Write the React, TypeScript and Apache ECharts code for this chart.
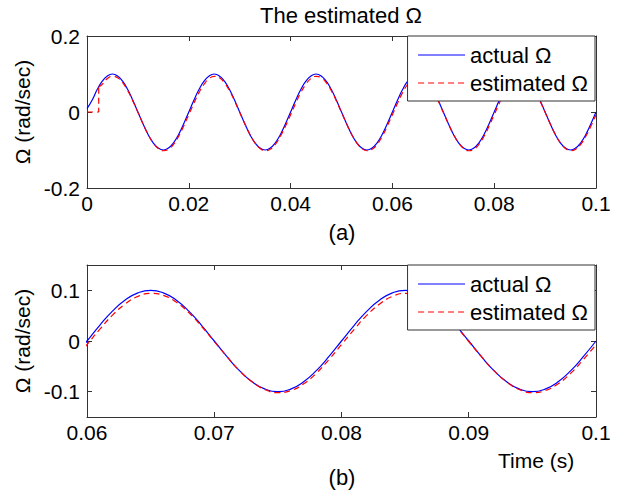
import React, { useEffect, useRef } from "react";
import * as echarts from "echarts";

// sampling step of the time axis (s)
const T_STEP = 0.001;

// actual Ω (rad/sec) at t = 0, 0.001, ..., 0.1
const actualOmega = [
  0.009, 0.031, 0.059, 0.081, 0.095, 0.1, 0.095, 0.081, 0.059, 0.031,
  0, -0.031, -0.059, -0.081, -0.095, -0.1, -0.095, -0.081, -0.059, -0.031,
  0, 0.031, 0.059, 0.081, 0.095, 0.1, 0.095, 0.081, 0.059, 0.031,
  0, -0.031, -0.059, -0.081, -0.095, -0.1, -0.095, -0.081, -0.059, -0.031,
  0, 0.031, 0.059, 0.081, 0.095, 0.1, 0.095, 0.081, 0.059, 0.031,
  0, -0.031, -0.059, -0.081, -0.095, -0.1, -0.095, -0.081, -0.059, -0.031,
  0, 0.031, 0.059, 0.081, 0.095, 0.1, 0.095, 0.081, 0.059, 0.031,
  0, -0.031, -0.059, -0.081, -0.095, -0.1, -0.095, -0.081, -0.059, -0.031,
  0, 0.031, 0.059, 0.081, 0.095, 0.1, 0.095, 0.081, 0.059, 0.031,
  0, -0.031, -0.059, -0.081, -0.095, -0.1, -0.095, -0.081, -0.059, -0.031,
  0,
];

// estimated Ω: initial step (estimator output held at 0 until it starts)
const estimatedStepTime = [0, 0.0023, 0.0023];
const estimatedStepValues = [0, 0, 0.066];

// estimated Ω at t = 0.003, 0.004, ..., 0.1
const estimatedStartTime = 0.003;
const estimatedOmega = [
  0.073, 0.088, 0.094, 0.09, 0.077, 0.056, 0.029,
  -0.001, -0.031, -0.059, -0.081, -0.096, -0.102, -0.098, -0.085, -0.064, -0.037,
  -0.007, 0.023, 0.051, 0.073, 0.088, 0.094, 0.09, 0.077, 0.056, 0.029,
  -0.001, -0.031, -0.059, -0.081, -0.096, -0.102, -0.098, -0.085, -0.064, -0.037,
  -0.007, 0.023, 0.051, 0.073, 0.088, 0.094, 0.09, 0.077, 0.056, 0.029,
  -0.001, -0.031, -0.059, -0.081, -0.096, -0.102, -0.098, -0.085, -0.064, -0.037,
  -0.007, 0.023, 0.051, 0.073, 0.088, 0.094, 0.09, 0.077, 0.056, 0.029,
  -0.001, -0.031, -0.059, -0.081, -0.096, -0.102, -0.098, -0.085, -0.064, -0.037,
  -0.007, 0.023, 0.051, 0.073, 0.088, 0.094, 0.09, 0.077, 0.056, 0.029,
  -0.001, -0.031, -0.059, -0.081, -0.096, -0.102, -0.098, -0.085, -0.064, -0.037,
  -0.007,
];

const seriesNames = ["actual Ω", "estimated Ω"];
const topXTicks = { min: 0, max: 0.1, interval: 0.02 };
const topYTicks = { min: -0.2, max: 0.2, interval: 0.2 };
const bottomXTicks = { min: 0.06, max: 0.1, interval: 0.01 };
const bottomYRange = { min: -0.15, max: 0.15 };
const bottomYTickValues = [-0.1, 0, 0.1];

const titleText = "The estimated Ω";
const yAxisName = "Ω (rad/sec)";
const xAxisName = "Time (s)";
const panelLabels = ["(a)", "(b)"];

const FONT = "'Liberation Sans', Arial, Helvetica, sans-serif";
const AXIS_COLOR = "#333";
const TEXT_COLOR = "#000";
const BLUE = "#0000ff";
const RED = "#ff0000";

const fmt = (v: number) => String(parseFloat(Number(v).toFixed(4)));

export default function App() {
  const ref = useRef<HTMLDivElement>(null);

  useEffect(() => {
    if (!ref.current) return;
    const chart = echarts.init(ref.current, undefined, { renderer: "svg" });

    const actualData = actualOmega.map((v, i) => [i * T_STEP, v]);
    const estStep = estimatedStepTime.map((t, i) => [t, estimatedStepValues[i]]);
    const estMain = [
      [estimatedStepTime[2], estimatedStepValues[2]],
      ...estimatedOmega.map((v, i) => [estimatedStartTime + i * T_STEP, v]),
    ];
    const estMainBottom = estimatedOmega.map((v, i) => [estimatedStartTime + i * T_STEP, v]);

    const grids = [
      { left: 87, top: 36, width: 509, height: 152 },
      { left: 87, top: 265, width: 509, height: 152 },
    ];

    const axisLine = { show: true, onZero: false, lineStyle: { color: AXIS_COLOR, width: 1 } };
    const axisTick = { show: true, inside: true, length: 5, lineStyle: { color: AXIS_COLOR, width: 1 } };
    const label = { color: TEXT_COLOR, fontSize: 21, fontFamily: FONT, formatter: fmt };

    const mkX = (gridIndex: number, t: any, position: string, showLabel: boolean) => ({
      type: "value",
      gridIndex,
      position,
      min: t.min,
      max: t.max,
      interval: t.interval,
      axisLine,
      axisTick,
      splitLine: { show: false },
      axisLabel: { ...label, show: showLabel, margin: 5 },
    });

    const yName = {
      name: yAxisName,
      nameLocation: "middle",
      nameRotate: 90,
      nameGap: 51,
      nameTextStyle: { color: TEXT_COLOR, fontSize: 21, fontFamily: FONT },
    };

    const lineSeries = (name: string, data: any[], xi: number, yi: number, color: string, dashed: boolean, smooth: boolean) => ({
      name,
      type: "line",
      xAxisIndex: xi,
      yAxisIndex: yi,
      data,
      symbol: "none",
      showSymbol: false,
      smooth,
      clip: true,
      lineStyle: { color, width: 1.2, type: dashed ? [6, 4] : "solid" },
      itemStyle: { color },
    });

    const legendBase = {
      data: seriesNames,
      orient: "vertical",
      right: 30,
      padding: [8, 7, 7, 10],
      itemWidth: 47,
      itemHeight: 14,
      itemGap: 6,
      backgroundColor: "#fff",
      borderColor: AXIS_COLOR,
      borderWidth: 1,
      borderRadius: 0,
      selectedMode: false,
      itemStyle: { opacity: 0 },
      lineStyle: { width: 1 },
      textStyle: { color: TEXT_COLOR, fontSize: 22, lineHeight: 21, fontFamily: FONT, padding: [0, 0, 0, 0] },
    };

    const txt = (text: string, x: number, y: number, align = "center", size = 21) => ({
      type: "text",
      x,
      y,
      style: {
        text,
        fill: TEXT_COLOR,
        font: `${size}px ${FONT}`,
        textAlign: align,
        textVerticalAlign: "middle",
      },
    });

    chart.setOption({
      animation: false,
      backgroundColor: "#fff",
      grid: grids,
      xAxis: [
        mkX(0, topXTicks, "bottom", true),
        mkX(0, topXTicks, "top", false),
        mkX(1, bottomXTicks, "bottom", true),
        mkX(1, bottomXTicks, "top", false),
      ],
      yAxis: [
        {
          type: "value", gridIndex: 0, position: "left",
          min: topYTicks.min, max: topYTicks.max, interval: topYTicks.interval,
          axisLine, axisTick, splitLine: { show: false },
          axisLabel: { ...label, margin: 7 },
          ...yName,
        },
        {
          type: "value", gridIndex: 0, position: "right",
          min: topYTicks.min, max: topYTicks.max, interval: topYTicks.interval,
          axisLine, axisTick, splitLine: { show: false },
          axisLabel: { show: false },
        },
        {
          type: "value", gridIndex: 1, position: "left",
          min: bottomYRange.min, max: bottomYRange.max,
          axisLine, axisTick: { ...axisTick, customValues: bottomYTickValues },
          splitLine: { show: false },
          axisLabel: { ...label, margin: 7, customValues: bottomYTickValues },
          ...yName,
        },
        {
          type: "value", gridIndex: 1, position: "right",
          min: bottomYRange.min, max: bottomYRange.max,
          axisLine, axisTick: { ...axisTick, customValues: bottomYTickValues },
          splitLine: { show: false },
          axisLabel: { show: false, customValues: bottomYTickValues },
        },
      ],
      legend: [
        { ...legendBase, top: 36 },
        { ...legendBase, top: 265 },
      ],
      series: [
        lineSeries(seriesNames[0], actualData, 0, 0, BLUE, false, true),
        lineSeries(seriesNames[1], estStep, 0, 0, RED, true, false),
        lineSeries(seriesNames[1], estMain, 0, 0, RED, true, true),
        lineSeries(seriesNames[0], actualData, 2, 2, BLUE, false, true),
        lineSeries(seriesNames[1], estMainBottom, 2, 2, RED, true, true),
      ],
      graphic: [
        txt(titleText, 341, 15, "center", 22),
        txt(panelLabels[0], 342, 232, "center", 22),
        txt(panelLabels[1], 342, 477, "center", 22),
        txt(xAxisName, 498, 460, "left", 21),
      ],
    });

    return () => chart.dispose();
  }, []);

  return (
    <div
      ref={ref}
      style={{ position: "fixed", left: 0, top: 0, width: 625, height: 491, background: "#fff" }}
    />
  );
}
